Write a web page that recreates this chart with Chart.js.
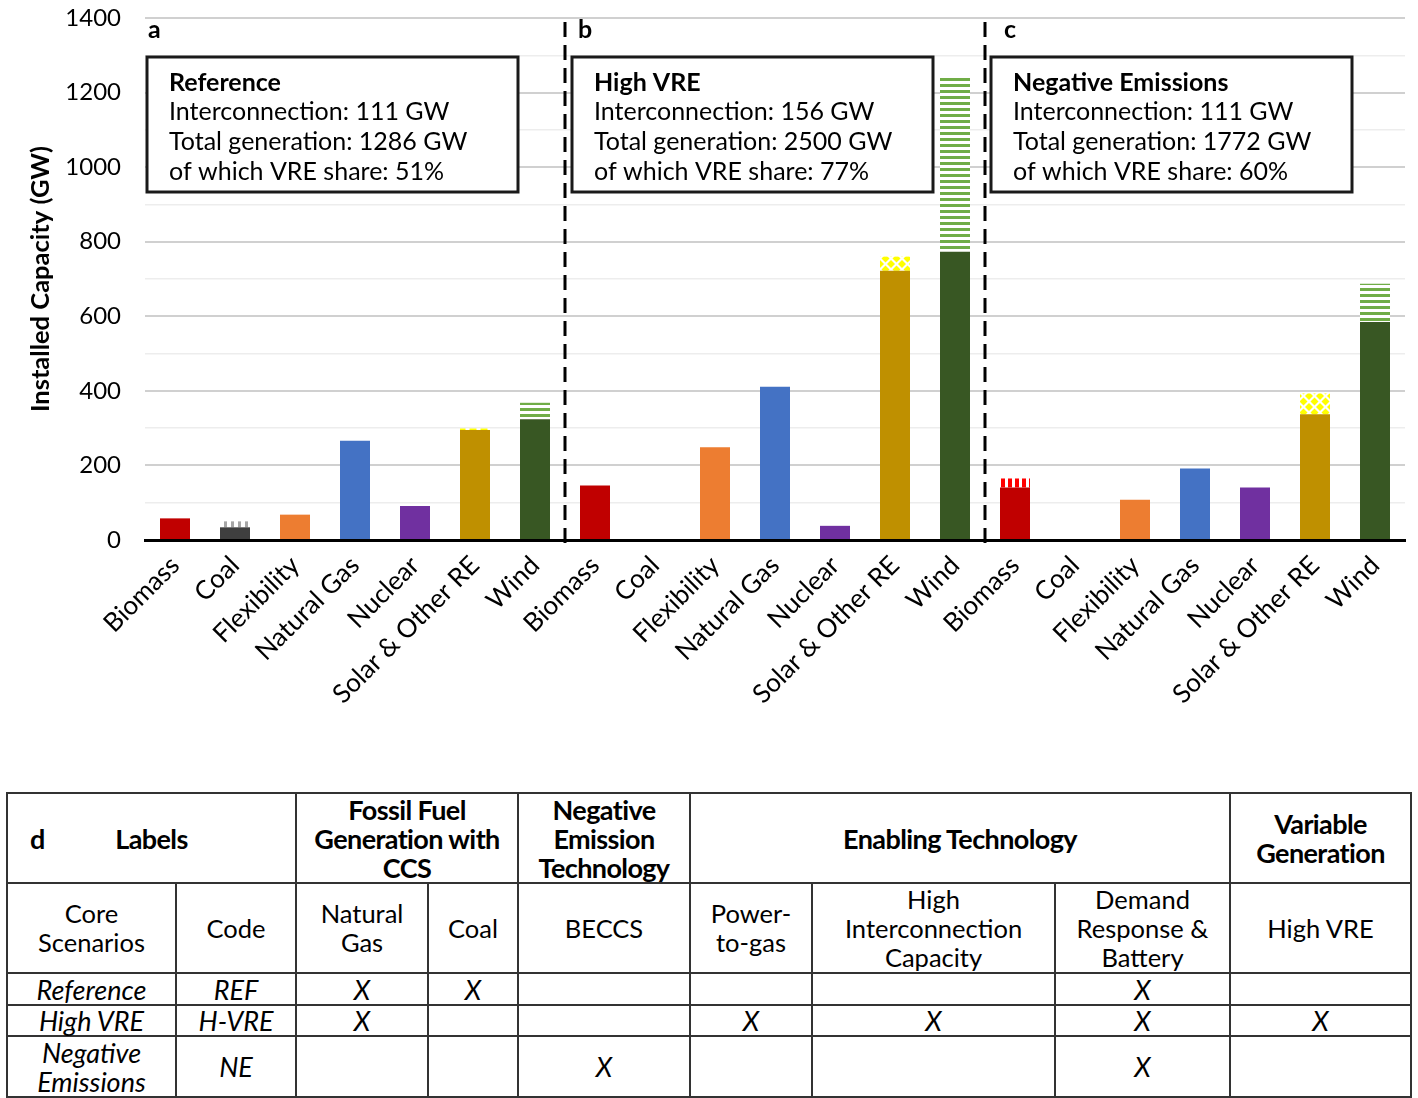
<!DOCTYPE html>
<html>
<head>
<meta charset="utf-8">
<script src="https://cdn.jsdelivr.net/npm/chart.js@4.4.0/dist/chart.umd.min.js"></script>
<style>
  body { margin: 0; background: #fff; font-family: Lato, "Open Sans", sans-serif; }
  #wrap { position: absolute; left: 0; top: 0; width: 1418px; height: 760px; }
  #tbl { position: absolute; left: 6px; top: 792px; width: 1404px; border-collapse: collapse; table-layout: fixed; }
  #tbl td { border: 2px solid #333; text-align: center; vertical-align: middle; font-size: 25.5px; line-height: 29px; padding: 0; color: #000; white-space: pre-line; }
  #tbl tr.head td { font-weight: bold; font-size: 27px; letter-spacing: -0.6px; }
  #tbl tr.data td { font-style: italic; font-size: 27px; }
</style>
</head>
<body>
<div id="wrap"><canvas id="capChart" width="1418" height="760"></canvas></div>
<table id="tbl"></table>
<script>
// categories, repeated for the three scenarios (a, b, c)
const techs = ['Biomass', 'Coal', 'Flexibility', 'Natural Gas', 'Nuclear', 'Solar & Other RE', 'Wind'];
const labels = [...techs, ...techs, ...techs];

// installed capacity (GW), solid part and hatched part of each bar
const refBase   = [58, 34, 68, 266, 91, 295, 324];
const refExtra  = [0, 16, 0, 0, 0, 4, 44];
const hvreBase  = [146, 0, 249, 411, 38, 722, 773];
const hvreExtra = [0, 0, 0, 0, 0, 38, 471];
const neBase    = [141, 0, 108, 192, 141, 337, 585];
const neExtra   = [24, 0, 0, 0, 0, 56, 102];

// scenario boxes
const panelLetters = ['a', 'b', 'c'];
const boxTitles = ['Reference', 'High VRE', 'Negative Emissions'];
const interconnection = [111, 156, 111];
const totalGen = [1286, 2500, 1772];
const vreShare = [51, 77, 60];

// table d
const groupHeads = [['Labels', 2], ['Fossil Fuel\nGeneration with\nCCS', 2], ['Negative\nEmission\nTechnology', 1], ['Enabling Technology', 3], ['Variable\nGeneration', 1]];
const subHeads = ['Core\nScenarios', 'Code', 'Natural\nGas', 'Coal', 'BECCS', 'Power-\nto-gas', 'High\nInterconnection\nCapacity', 'Demand\nResponse &\nBattery', 'High VRE'];
const scenarioNames = ['Reference', 'High VRE', 'Negative\nEmissions'];
const scenarioCodes = ['REF', 'H-VRE', 'NE'];
const scenarioMarks = [
    [1, 1, 0, 0, 0, 1, 0],
    [1, 0, 0, 1, 1, 1, 1],
    [0, 0, 1, 0, 0, 1, 0]
];

const techColors = ['#C00000', '#3F3F3F', '#ED7D31', '#4472C4', '#7030A0', '#BF9000', '#385723'];

// hatch patterns for the top part of bars
function makePattern(kind) {
    const c = document.createElement('canvas');
    const g = c.getContext('2d');
    if (kind === 'gray' || kind === 'red') {
        c.width = 7; c.height = 7;
        g.fillStyle = '#fff'; g.fillRect(0, 0, 7, 7);
        g.fillStyle = kind === 'gray' ? '#A6A6A6' : '#FF0000';
        g.fillRect(0, 0, kind === 'gray' ? 3 : 4, 7);
    } else if (kind === 'green') {
        c.width = 6; c.height = 6;
        g.fillStyle = '#fff'; g.fillRect(0, 0, 6, 6);
        g.fillStyle = '#70AD47';
        g.fillRect(0, 0, 6, 3);
    } else if (kind === 'yellow') {
        c.width = 11; c.height = 11;
        g.fillStyle = '#fff'; g.fillRect(0, 0, 11, 11);
        g.fillStyle = '#FFFF00';
        const pts = [[0, 0], [11, 0], [0, 11], [11, 11], [5.5, 5.5]];
        pts.forEach(([px, py]) => {
            g.beginPath();
            g.moveTo(px, py - 4); g.lineTo(px + 4, py); g.lineTo(px, py + 4); g.lineTo(px - 4, py);
            g.closePath(); g.fill();
        });
    }
    return g.createPattern(c, 'repeat');
}
const hatchKinds = ['red', 'gray', null, null, null, 'yellow', 'green'];
const hatchFills = hatchKinds.map(k => k ? makePattern(k) : '#fff');

const baseColors = labels.map((_, i) => techColors[i % 7]);
const extraColors = labels.map((_, i) => hatchFills[i % 7]);

// boxes, panel letters and dashed separators
const overlayPlugin = {
    id: 'overlay',
    beforeDatasetsDraw(chart) {
        const ctx = chart.ctx;
        const x = chart.scales.x;
        const top = chart.scales.y.getPixelForValue(1400);
        const half = (x.getPixelForValue(1) - x.getPixelForValue(0)) / 2;
        const offs = [2, 7, 6];
        const widths = [371, 361, 361];
        ctx.save();
        for (let p = 0; p < 3; p++) {
            const start = x.getPixelForValue(p * 7) - half;
            const bx = start + offs[p];
            const by = top + 39;
            ctx.fillStyle = '#fff';
            ctx.fillRect(bx, by, widths[p], 135);
            ctx.lineWidth = 3;
            ctx.strokeStyle = '#1a1a1a';
            ctx.strokeRect(bx, by, widths[p], 135);
            ctx.fillStyle = '#000';
            ctx.textBaseline = 'middle';
            ctx.textAlign = 'left';
            ctx.font = 'bold 25px Lato';
            ctx.fillText(boxTitles[p], bx + 22, by + 26);
            ctx.font = '25px Lato';
            ctx.fillText('Interconnection: ' + interconnection[p] + ' GW', bx + 22, by + 55);
            ctx.fillText('Total generation: ' + totalGen[p] + ' GW', bx + 22, by + 85);
            ctx.fillText('of which VRE share: ' + vreShare[p] + '%', bx + 22, by + 115);
        }
        ctx.restore();
    },
    afterDraw(chart) {
        const ctx = chart.ctx;
        const x = chart.scales.x;
        const area = chart.chartArea;
        const top = chart.scales.y.getPixelForValue(1400);
        const half = (x.getPixelForValue(1) - x.getPixelForValue(0)) / 2;
        const letterOffs = [3, 13, 19];
        ctx.save();
        ctx.fillStyle = '#000';
        ctx.font = 'bold 25px Lato';
        ctx.textBaseline = 'middle';
        for (let p = 0; p < 3; p++) {
            const start = x.getPixelForValue(p * 7) - half;
            ctx.fillText(panelLetters[p], start + letterOffs[p], top + 12);
        }
        ctx.strokeStyle = '#000';
        ctx.lineWidth = 3;
        ctx.setLineDash([15, 8]);
        [7, 14].forEach(i => {
            const sx = Math.round(x.getPixelForValue(i) - half);
            ctx.beginPath();
            ctx.moveTo(sx, top + 4);
            ctx.lineTo(sx, area.bottom + 4);
            ctx.stroke();
        });
        ctx.restore();
    }
};

const ctx = document.getElementById('capChart').getContext('2d');
const capChart = new Chart(ctx, {
    type: 'bar',
    data: {
        labels: labels,
        datasets: [
            {
                label: 'Installed',
                data: [...refBase, ...hvreBase, ...neBase],
                backgroundColor: baseColors,
                barPercentage: 0.5,
                categoryPercentage: 1
            },
            {
                label: 'Additional',
                data: [...refExtra, ...hvreExtra, ...neExtra],
                backgroundColor: extraColors,
                barPercentage: 0.5,
                categoryPercentage: 1
            }
        ]
    },
    options: {
        responsive: false,
        animation: false,
        layout: { padding: { top: 18, right: 13, left: 0, bottom: 0 } },
        plugins: { legend: { display: false }, tooltip: { enabled: false } },
        scales: {
            x: {
                stacked: true,
                grid: { display: false },
                border: { display: true, color: '#000', width: 3 },
                ticks: {
                    color: '#000',
                    font: { family: 'Lato', size: 26 },
                    maxRotation: 45,
                    minRotation: 45,
                    autoSkip: false,
                    padding: 2
                },
                afterFit(scale) { scale.height = 220; }
            },
            y: {
                stacked: true,
                min: 0,
                max: 1400,
                border: { display: false },
                grid: {
                    drawTicks: false,
                    color: c => c.tick.value % 200 === 0 ? '#D0D0D0' : '#EDEDED',
                    lineWidth: c => c.tick.value % 200 === 0 ? 2 : 1.5
                },
                ticks: {
                    stepSize: 50,
                    color: '#000',
                    font: { family: 'Lato', size: 24 },
                    padding: 24,
                    callback: v => v % 200 === 0 ? v : ''
                },
                title: {
                    display: true,
                    text: 'Installed Capacity (GW)',
                    color: '#000',
                    font: { family: 'Lato', size: 25.5, weight: 'bold' },
                    padding: { top: 25, bottom: 0 }
                },
                afterFit(scale) {
                    scale.width = 145;
                    scale.paddingTop = 0;
                    scale.paddingBottom = 0;
                }
            }
        }
    },
    plugins: [overlayPlugin]
});

// build table d
const tbl = document.getElementById('tbl');
const colWidths = [169, 120, 132, 90, 172, 122, 243, 175, 181];
const colgroup = document.createElement('colgroup');
colWidths.forEach(w => {
    const col = document.createElement('col');
    col.style.width = w + 'px';
    colgroup.appendChild(col);
});
tbl.appendChild(colgroup);

function addRow(cls, height, cells) {
    const tr = document.createElement('tr');
    tr.className = cls;
    tr.style.height = height + 'px';
    cells.forEach(([txt, span]) => {
        const td = document.createElement('td');
        td.textContent = txt;
        if (span > 1) td.colSpan = span;
        tr.appendChild(td);
    });
    tbl.appendChild(tr);
    return tr;
}

const headRow = addRow('head', 90, groupHeads);
const firstCell = headRow.firstChild;
firstCell.style.position = 'relative';
const dLabel = document.createElement('span');
dLabel.textContent = 'd';
dLabel.style.cssText = 'position:absolute;left:22px;top:30px;font-weight:bold;';
firstCell.appendChild(dLabel);

addRow('sub', 90, subHeads.map(s => [s, 1]));
const rowHeights = [32, 31, 61];
scenarioNames.forEach((name, r) => {
    const cells = [[name, 1], [scenarioCodes[r], 1]];
    scenarioMarks[r].forEach(m => cells.push([m ? 'X' : '', 1]));
    addRow('data', rowHeights[r], cells);
});
</script>
</body>
</html>
